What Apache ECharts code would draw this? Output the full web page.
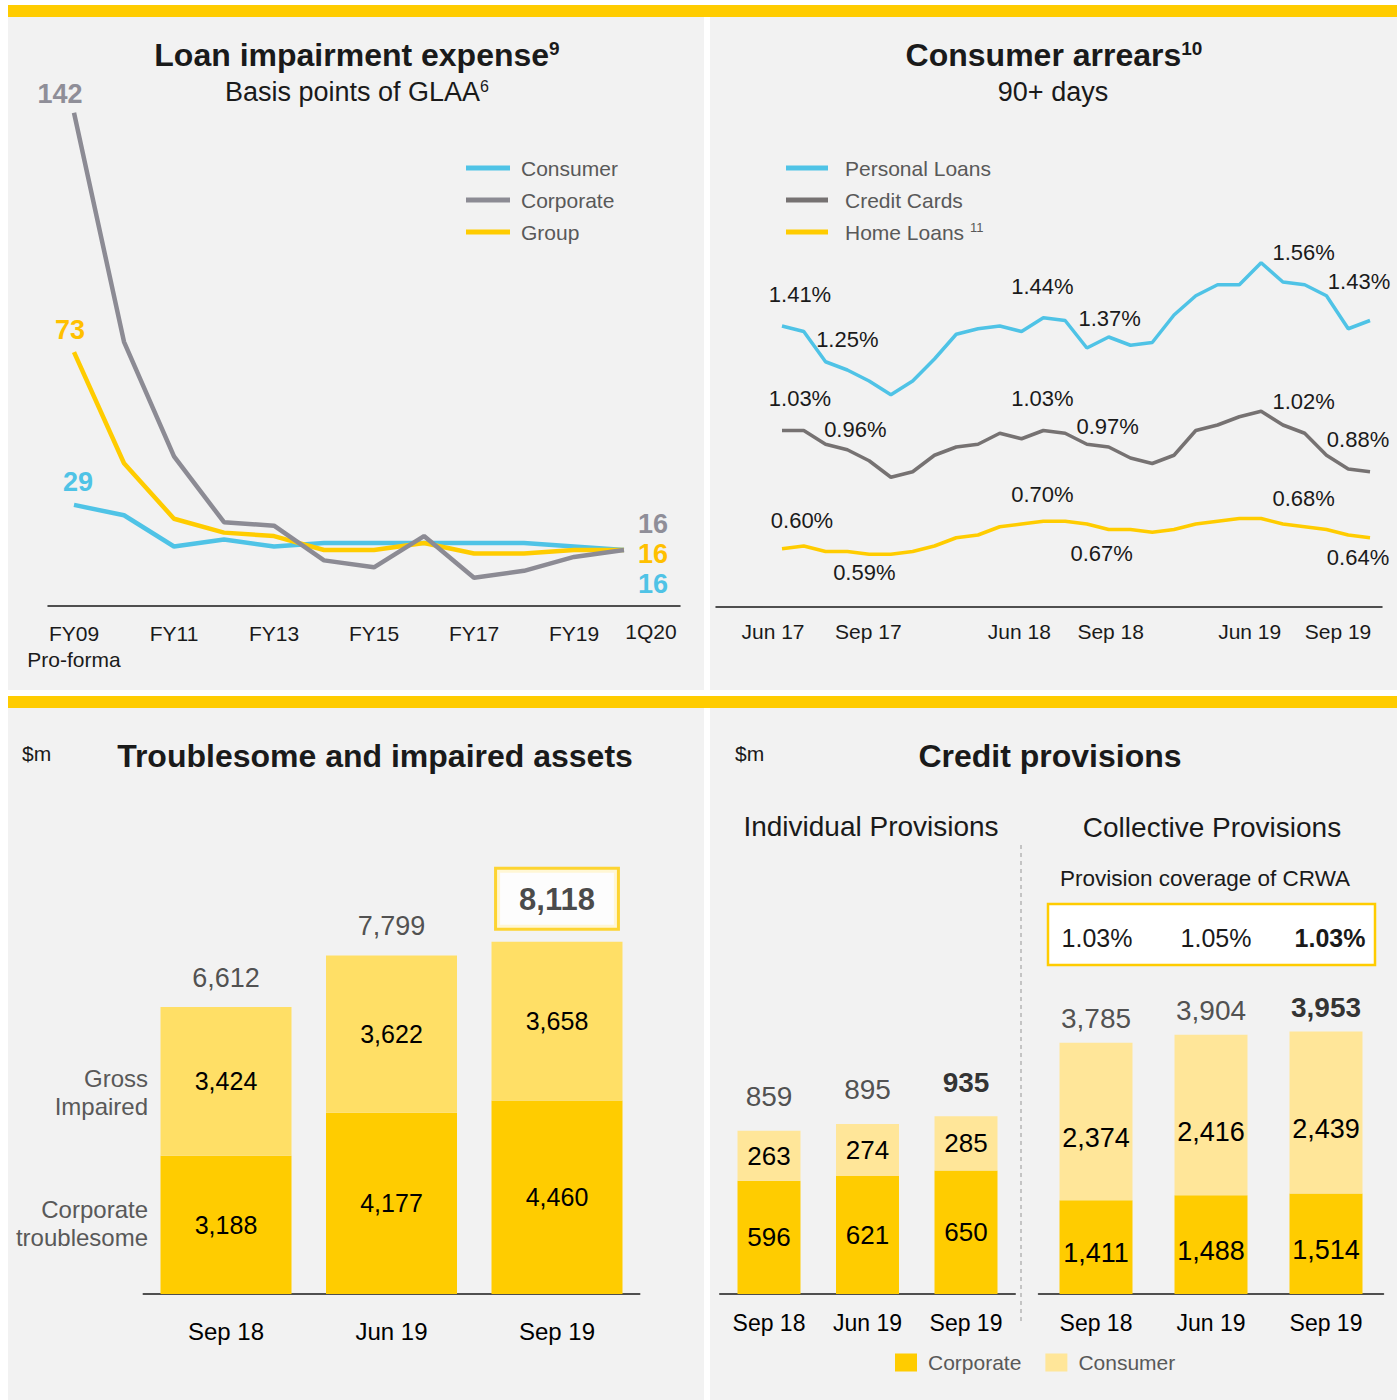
<!DOCTYPE html>
<html>
<head>
<meta charset="utf-8">
<title>Credit quality</title>
<script src="https://cdn.jsdelivr.net/npm/echarts@6/dist/echarts.min.js"></script>
<style>
  html, body { margin: 0; padding: 0; background: #fff; }
  #main { width: 1397px; height: 1400px; }
</style>
</head>
<body>
<div id="main"></div>
<script>
// --- Loan impairment expense (bps of GLAA) ---
const years = ['FY09', 'FY10', 'FY11', 'FY12', 'FY13', 'FY14', 'FY15', 'FY16', 'FY17', 'FY18', 'FY19', '1Q20'];
const consumerBps = [29, 26, 17, 19, 17, 18, 18, 18, 18, 18, 17, 16];
const corporateBps = [142, 76, 43, 24, 23, 13, 11, 20, 8, 10, 14, 16];
const groupBps = [73, 41, 25, 21, 20, 16, 16, 18, 15, 15, 16, 16];
const yearTicks = [0, 2, 4, 6, 8, 10];
const quarterTick = [11];

// --- Consumer arrears 90+ days (%) ---
const months = ['Jun 17', 'Jul 17', 'Aug 17', 'Sep 17', 'Oct 17', 'Nov 17', 'Dec 17',
  'Jan 18', 'Feb 18', 'Mar 18', 'Apr 18', 'May 18', 'Jun 18', 'Jul 18', 'Aug 18', 'Sep 18',
  'Oct 18', 'Nov 18', 'Dec 18', 'Jan 19', 'Feb 19', 'Mar 19', 'Apr 19', 'May 19', 'Jun 19',
  'Jul 19', 'Aug 19', 'Sep 19'];
const personalLoans = [1.41, 1.39, 1.28, 1.25, 1.21, 1.16, 1.21, 1.29, 1.38, 1.40, 1.41, 1.39, 1.44, 1.43,
  1.33, 1.37, 1.34, 1.35, 1.45, 1.52, 1.56, 1.56, 1.64, 1.57, 1.56, 1.52, 1.40, 1.43];
const creditCards = [1.03, 1.03, 0.98, 0.96, 0.92, 0.86, 0.88, 0.94, 0.97, 0.98, 1.02, 1.00, 1.03, 1.02,
  0.98, 0.97, 0.93, 0.91, 0.94, 1.03, 1.05, 1.08, 1.10, 1.05, 1.02, 0.94, 0.89, 0.88];
const homeLoans = [0.60, 0.61, 0.59, 0.59, 0.58, 0.58, 0.59, 0.61, 0.64, 0.65, 0.68, 0.69, 0.70, 0.70,
  0.69, 0.67, 0.67, 0.66, 0.67, 0.69, 0.70, 0.71, 0.71, 0.69, 0.68, 0.67, 0.65, 0.64];
const quarterIdx = [0, 3, 12, 15, 24, 27];

// --- Troublesome and impaired assets ($m) ---
const periods = ['Sep 18', 'Jun 19', 'Sep 19'];
const corpTroublesome = [3188, 4177, 4460];
const grossImpaired = [3424, 3622, 3658];
const tiaTotals = [6612, 7799, 8118];

// --- Credit provisions ($m) ---
const indivCorporate = [596, 621, 650];
const indivConsumer = [263, 274, 285];
const indivTotals = [859, 895, 935];
const collCorporate = [1411, 1488, 1514];
const collConsumer = [2374, 2416, 2439];
const collTotals = [3785, 3904, 3953];
const crwaCoverage = ['1.03%', '1.05%', '1.03%'];

const FONT = 'Liberation Sans, Arial, sans-serif';
const GOLD = '#ffcc00';
const BLUE = '#4fc3e6';
const GREY = '#8c8b94';
const DARKGREY = '#767272';
const LIGHTGOLD = '#ffdf66';
const PALEGOLD = '#ffe699';
const INK = '#1a1a1a';

const fmt = v => v.toLocaleString('en-US');

let myChart = echarts.init(document.getElementById('main'), null, { renderer: 'svg' });

// first / last point labels on the bps chart
function bpsData(values, first, last) {
  return values.map((v, i) => {
    let item = { value: [i, v] };
    if (i === 0) item.label = Object.assign({ show: true, position: 'top' }, first);
    if (i === values.length - 1) item.label = Object.assign({ show: true, position: 'right' }, last);
    return item;
  });
}

// quarter-end labels on the arrears chart
function arrearsData(values, offsets) {
  return values.map((v, i) => {
    let k = quarterIdx.indexOf(i);
    let item = { value: [i, v] };
    if (k >= 0) {
      item.label = { show: true, position: 'inside', offset: offsets[k], formatter: v.toFixed(2) + '%' };
    }
    return item;
  });
}

// month tick labels nudged to where they sit in the slide
const monthShift = { 0: -9, 3: 21, 12: -24, 15: 2, 24: -55, 27: -32 };
let monthRich = {};
Object.keys(monthShift).forEach(k => {
  let s = monthShift[k];
  monthRich['m' + k] = {
    fontSize: 21, color: INK, fontFamily: FONT,
    padding: s > 0 ? [0, 0, 0, 2 * s] : [0, -2 * s, 0, 0]
  };
});

function bpsLine(name, values, color, labelColor, first, last) {
  return {
    name: name, type: 'line', xAxisIndex: 0, yAxisIndex: 0,
    data: bpsData(values, first, last),
    symbol: 'circle', symbolSize: 0, showSymbol: true, showAllSymbol: true,
    lineStyle: { color: color, width: 4.5 },
    itemStyle: { color: color },
    label: { color: labelColor, fontSize: 27, fontWeight: 'bold', fontFamily: FONT }
  };
}

function arrearsLine(name, values, color, offsets) {
  return {
    name: name, type: 'line', xAxisIndex: 1, yAxisIndex: 1,
    data: arrearsData(values, offsets),
    symbol: 'circle', symbolSize: 0, showSymbol: true, showAllSymbol: true,
    lineStyle: { color: color, width: 3.5 },
    itemStyle: { color: color },
    label: { color: INK, fontSize: 22, fontFamily: FONT }
  };
}

function stackBar(name, axis, values, color, width, size, offset) {
  return {
    name: name, type: 'bar', xAxisIndex: axis, yAxisIndex: axis, stack: 's' + axis,
    barWidth: width, data: values,
    itemStyle: { color: color },
    label: {
      show: true, position: 'inside', offset: [0, offset || 0], fontSize: size,
      color: '#000', fontFamily: FONT, formatter: p => fmt(p.value)
    }
  };
}

function totalLabels(axis, values, size, distance, boldLast) {
  return {
    type: 'scatter', xAxisIndex: axis, yAxisIndex: axis, symbolSize: 0,
    itemStyle: { color: 'transparent' },
    data: values.map((v, i) => (i === values.length - 1 && boldLast) ? { value: v, label: boldLast } : v),
    label: {
      show: true, position: 'top', distance: distance, fontSize: size,
      color: '#262626', fontFamily: FONT, formatter: p => fmt(p.value)
    }
  };
}

const catAxis = (grid, size, margin) => ({
  gridIndex: grid, type: 'category', data: periods,
  axisLine: { lineStyle: { color: INK, width: 1.5 } },
  axisTick: { show: false },
  axisLabel: { fontSize: size, color: '#000', fontFamily: FONT, margin: margin }
});

const text = (t, x, y, size, opts) => ({
  type: 'text', z: 5,
  style: Object.assign({
    text: t, x: x, y: y, fontSize: size, fontFamily: FONT, fill: INK,
    align: 'center', verticalAlign: 'middle'
  }, opts || {})
});
const supRich = (size, bold) => ({
  sup: { fontSize: size, fontFamily: FONT, fontWeight: bold ? 'bold' : 'normal', fill: INK, verticalAlign: 'top' }
});

const graphics = [
  { type: 'rect', z: -10, shape: { x: 8, y: 17, width: 696, height: 673 }, style: { fill: '#f2f2f2' } },
  { type: 'rect', z: -10, shape: { x: 710, y: 17, width: 687, height: 673 }, style: { fill: '#f2f2f2' } },
  { type: 'rect', z: -10, shape: { x: 8, y: 708, width: 696, height: 692 }, style: { fill: '#f2f2f2' } },
  { type: 'rect', z: -10, shape: { x: 710, y: 708, width: 687, height: 692 }, style: { fill: '#f2f2f2' } },
  { type: 'rect', z: -10, shape: { x: 8, y: 5, width: 1389, height: 12 }, style: { fill: GOLD } },
  { type: 'rect', z: -10, shape: { x: 8, y: 696, width: 1389, height: 12 }, style: { fill: GOLD } },

  text('Loan impairment expense{sup|9}', 357, 55, 32, { fontWeight: 'bold', rich: supRich(19, true) }),
  text('Basis points of GLAA{sup|6}', 357, 92, 27, { rich: supRich(16, false) }),
  text('Consumer arrears{sup|10}', 1054, 55, 32, { fontWeight: 'bold', rich: supRich(19, true) }),
  text('90+ days', 1053, 92, 27),

  text('$m', 22, 753, 21, { align: 'left' }),
  text('Troublesome and impaired assets', 375, 756, 32, { fontWeight: 'bold' }),
  text('Gross\nImpaired', 148, 1092, 24, { align: 'right', lineHeight: 28, fill: '#595959' }),
  text('Corporate\ntroublesome', 148, 1223, 24, { align: 'right', lineHeight: 28, fill: '#595959' }),

  text('$m', 735, 753, 21, { align: 'left' }),
  text('Credit provisions', 1050, 756, 32, { fontWeight: 'bold' }),
  text('Individual Provisions', 871, 826, 28),
  text('Collective Provisions', 1212, 827, 28),
  text('Provision coverage of CRWA', 1205, 878, 22.5),
  { type: 'rect', z: 4, shape: { x: 1048, y: 904, width: 327, height: 61 }, style: { fill: '#fff', stroke: GOLD, lineWidth: 2.5 } },
  { type: 'line', z: 4, shape: { x1: 1021, y1: 845, x2: 1021, y2: 1322 }, style: { stroke: '#a6a6a6', lineWidth: 1.2, lineDash: [4, 4] } }
];
[1097, 1216, 1330].forEach((x, i) => {
  graphics.push(text(crwaCoverage[i], x, 938, 25, { fontWeight: i === 2 ? 'bold' : 'normal' }));
});

const option = {
  backgroundColor: '#ffffff',
  animation: false,
  graphic: graphics,
  legend: [
    {
      left: 461, top: 152, orient: 'vertical', icon: 'rect', itemWidth: 44, itemHeight: 5, itemGap: 10,
      selectedMode: false,
      itemStyle: { borderWidth: 0 },
      data: [
        { name: 'Consumer', itemStyle: { color: BLUE, borderWidth: 0 } },
        { name: 'Corporate', itemStyle: { color: GREY, borderWidth: 0 } },
        { name: 'Group', itemStyle: { color: GOLD, borderWidth: 0 } }
      ],
      textStyle: { fontSize: 21, color: '#595959', fontFamily: FONT, lineHeight: 22, padding: [0, 0, 0, 6] }
    },
    {
      left: 781, top: 152, orient: 'vertical', icon: 'rect', itemWidth: 42, itemHeight: 5, itemGap: 10,
      selectedMode: false,
      itemStyle: { borderWidth: 0 },
      data: [
        { name: 'Personal Loans', itemStyle: { color: BLUE, borderWidth: 0 } },
        { name: 'Credit Cards', itemStyle: { color: DARKGREY, borderWidth: 0 } },
        { name: 'Home Loans', itemStyle: { color: GOLD, borderWidth: 0 } }
      ],
      formatter: n => n === 'Home Loans' ? 'Home Loans {sup|11}' : n,
      textStyle: {
        fontSize: 21, color: '#595959', fontFamily: FONT, lineHeight: 22, padding: [0, 0, 0, 12],
        rich: { sup: { fontSize: 13, color: '#595959', fontFamily: FONT, verticalAlign: 'top', lineHeight: 22 } }
      }
    },
    {
      left: 890, top: 1347, orient: 'horizontal', icon: 'rect', itemWidth: 22, itemHeight: 18, itemGap: 24,
      selectedMode: false,
      itemStyle: { borderWidth: 0 },
      data: [
        { name: 'Corporate', itemStyle: { color: GOLD, borderWidth: 0 } },
        { name: 'Consumer', itemStyle: { color: PALEGOLD, borderWidth: 0 } }
      ],
      textStyle: { fontSize: 21, color: '#595959', fontFamily: FONT, padding: [0, 0, 0, 6] }
    }
  ],
  grid: [
    { left: 48, top: 85, width: 632, height: 520.5, outerBoundsMode: 'none' },
    { left: 716, top: 232.5, width: 666, height: 374, outerBoundsMode: 'none' },
    { left: 143.25, top: 860, width: 496.5, height: 434, outerBoundsMode: 'none' },
    { left: 719.75, top: 1104, width: 295.5, height: 190, outerBoundsMode: 'none' },
    { left: 1038.5, top: 962, width: 345, height: 332, outerBoundsMode: 'none' }
  ],
  xAxis: [
    {
      gridIndex: 0, type: 'value', min: -0.52, max: 12.12,
      axisLine: { onZero: false, lineStyle: { color: INK, width: 1.5 } },
      axisTick: { show: false }, splitLine: { show: false },
      axisLabel: {
        customValues: yearTicks, showMinLabel: true, showMaxLabel: true,
        fontSize: 21, color: INK, fontFamily: FONT, margin: 15, lineHeight: 26,
        formatter: v => v === 0 ? years[0] + '\nPro-forma' : years[v]
      }
    },
    {
      gridIndex: 1, type: 'value', min: -3.03, max: 27.55,
      axisLine: { onZero: false, lineStyle: { color: INK, width: 1.5 } },
      axisTick: { show: false }, splitLine: { show: false },
      axisLabel: {
        customValues: quarterIdx, showMinLabel: true, showMaxLabel: true,
        fontSize: 21, color: INK, fontFamily: FONT, margin: 14,
        formatter: v => '{m' + v + '|' + months[v] + '}',
        rich: monthRich
      }
    },
    catAxis(2, 24, 25),
    catAxis(3, 23, 17),
    catAxis(4, 23, 17),
    {
      // the 1Q20 label sits a little right of its point, on its own axis so it is not hidden
      gridIndex: 0, type: 'value', position: 'bottom', min: -0.52, max: 12.12,
      axisLine: { show: false }, axisTick: { show: false }, splitLine: { show: false },
      axisLabel: {
        customValues: quarterTick, showMinLabel: true, showMaxLabel: true,
        fontSize: 21, color: INK, fontFamily: FONT, margin: 15,
        formatter: v => '{q|' + years[v] + '}',
        rich: { q: { fontSize: 21, color: INK, fontFamily: FONT, padding: [0, 0, 0, 54] } }
      }
    }
  ],
  yAxis: [
    { gridIndex: 0, type: 'value', min: 0, max: 150, show: false },
    { gridIndex: 1, type: 'value', min: 0.39, max: 1.75, show: false },
    { gridIndex: 2, type: 'value', min: 0, max: 10000, show: false },
    { gridIndex: 3, type: 'value', min: 0, max: 1000, show: false },
    { gridIndex: 4, type: 'value', min: 0, max: 5000, show: false }
  ],
  series: [
    bpsLine('Consumer', consumerBps, BLUE, BLUE, { offset: [4, 0], distance: 9 }, { offset: [0, 34], distance: 14 }),
    bpsLine('Group', groupBps, GOLD, '#ffc000', { offset: [-4, 0], distance: 9 }, { offset: [0, 4], distance: 14 }),
    bpsLine('Corporate', corporateBps, GREY, '#8f8e98', { offset: [-14, 0], distance: 5 }, { offset: [0, -26], distance: 14 }),

    arrearsLine('Personal Loans', personalLoans, BLUE, [[18, -32], [0, -31], [-1, -31], [1, -19], [-1, -32], [-11, -39]]),
    arrearsLine('Credit Cards', creditCards, DARKGREY, [[18, -32], [8, -20], [-1, -32], [-1, -21], [-1, -32], [-12, -32]]),
    arrearsLine('Home Loans', homeLoans, GOLD, [[20, -28], [17, 21], [-1, -27], [-7, 24], [-1, -28], [-12, 20]]),

    stackBar('Corporate troublesome', 2, corpTroublesome, GOLD, 131, 25),
    stackBar('Gross impaired', 2, grossImpaired, LIGHTGOLD, 131, 25),
    totalLabels(2, tiaTotals, 27, 16, {
      fontWeight: 'bold', fontSize: 31, color: INK, backgroundColor: '#fff',
      borderColor: GOLD, borderWidth: 3, padding: [14, 22, 13, 22], distance: 14
    }),

    stackBar('Corporate', 3, indivCorporate, GOLD, 63, 26),
    stackBar('Consumer', 3, indivConsumer, PALEGOLD, 63, 26),
    totalLabels(3, indivTotals, 28, 20, { fontWeight: 'bold', color: '#000' }),

    stackBar('Corporate', 4, collCorporate, GOLD, 73, 27, 6),
    stackBar('Consumer', 4, collConsumer, PALEGOLD, 73, 27, 17),
    totalLabels(4, collTotals, 28, 10, { fontWeight: 'bold', color: '#000' })
  ]
};

myChart.setOption(option);
</script>
</body>
</html>
